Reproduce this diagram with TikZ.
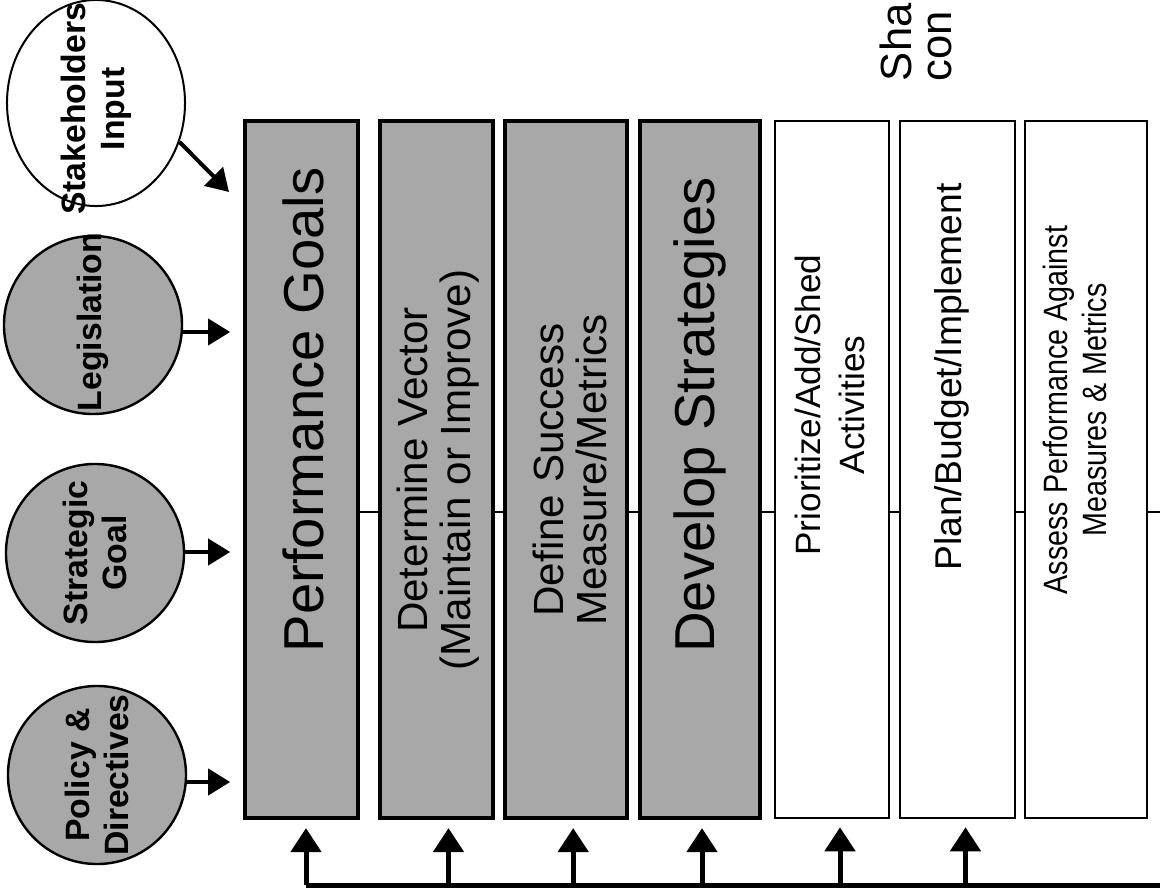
\documentclass[tikz,border=0pt]{standalone}
\usepackage{fontspec}
\setmainfont{Liberation Sans}
\newfontfamily\narrowsans[FakeStretch=0.85]{Liberation Sans}
\usetikzlibrary{shapes.geometric,arrows.meta}

\definecolor{halftone}{gray}{0.66}

\tikzset{
  shadedbox/.style={draw=black, line width=1mm, fill=halftone, minimum height=17.425cm, inner sep=0pt},
  plainbox/.style={draw=black, line width=0.6mm, fill=white, minimum height=17.425cm, inner sep=0pt},
  shadedsrc/.style={ellipse, draw=black, line width=0.6mm, fill=halftone, minimum width=4.45cm, minimum height=4.45cm, inner sep=0pt},
  plainsrc/.style={ellipse, draw=black, line width=0.5mm, fill=white, minimum width=4.45cm, minimum height=5.15cm, inner sep=0pt},
  srctext/.style={rotate=90, align=center, font=\bfseries\fontsize{24}{28}\selectfont},
  bigtext/.style={rotate=90, align=center, font=\fontsize{40}{44}\selectfont},
  midtext/.style={rotate=90, align=center, font=\fontsize{30}{31}\selectfont},
  plaintext/.style={rotate=90, align=center, font=\fontsize{25}{31}\selectfont},
  inarrow/.style={line width=1mm, -{Triangle[width=6.5mm, length=5.5mm]}},
  fbarrow/.style={line width=1.25mm, -{Triangle[width=7.5mm, length=6mm]}, shorten >=2mm},
  fbline/.style={line width=1.25mm},
  midline/.style={line width=0.3mm}
}

\begin{document}
\begin{tikzpicture}[x=0.025cm, y=-0.025cm]
  \useasboundingbox (0,0) rectangle (1160,895);

  % thin line through the steps
  \coordinate (midR) at (1160,512);
  \draw[midline] (301,512) -- (midR);

  % the seven steps
  \node[shadedbox, minimum width=2.825cm] (box1) at (301.5,469.5) {};
  \node[shadedbox, minimum width=2.825cm] (box2) at (436.5,469.5) {};
  \node[shadedbox, minimum width=3.05cm]  (box3) at (566,469.5) {};
  \node[shadedbox, minimum width=3.0cm]   (box4) at (700,469.5) {};
  \node[plainbox, minimum width=2.85cm]   (box5) at (832,469.5) {};
  \node[plainbox, minimum width=2.875cm]  (box6) at (957.5,469.5) {};
  \node[plainbox, minimum width=3.05cm]   (box7) at (1086,469.5) {};

  \node[bigtext] (t1) at (303,410) {Performance Goals};
  \node[midtext] (t2) at (438,470) {Determine Vector\\(Maintain or Improve)};
  \node[midtext] (t3) at (570,470) {Define Success\\Measure/Metrics};
  \node[bigtext] (t4) at (700,415) {Develop Strategies};
  \node[plaintext] (t5) at (830,405) {Prioritize/Add/Shed\\Activities};
  \node[plaintext, font=\fontsize{26.5}{31}\selectfont] (t6) at (952,377) {Plan/Budget/Implement};
  \node[plaintext, font=\narrowsans\fontsize{24}{28}\selectfont] (t7) at (1075,410) {Assess Performance Against\\Measures \& Metrics};

  % inputs
  \node[plainsrc]  (stake)  at (96,103) {};
  \node[srctext] (stakeT) at (96,109) {Stakeholders\\Input};
  \node[shadedsrc] (legis)  at (93,325) {};
  \node[srctext] (legisT) at (93,322) {Legislation};
  \node[shadedsrc] (strat)  at (95,553) {};
  \node[srctext] (stratT) at (95,553) {Strategic\\Goal};
  \node[shadedsrc] (policy) at (97,775) {};
  \node[srctext] (policyT) at (97,775) {Policy \&\\Directives};

  \coordinate (stakeTip) at (229,192);
  \draw[inarrow] (stake.-25) -- (stakeTip);
  \draw[inarrow] (legis.east |- 0,332) -- ([xshift=-3.2mm]box1.west |- 0,332);
  \draw[inarrow] (strat.east |- 0,552) -- ([xshift=-3.2mm]box1.west |- 0,552);
  \draw[inarrow] (policy.east |- 0,782) -- ([xshift=-3.2mm]box1.west |- 0,782);

  % feedback
  \coordinate (fbL) at (306,885);
  \coordinate (fbR) at (1160,885);
  \draw[fbline] (fbR) -- (fbL);
  \draw[fbarrow] (fbL) -- (fbL |- box1.south);
  \draw[fbarrow] ([xshift=3mm]box2.south |- fbL) -- ([xshift=3mm]box2.south);
  \draw[fbarrow] ([xshift=1.8mm]box3.south |- fbL) -- ([xshift=1.8mm]box3.south);
  \draw[fbarrow] ([xshift=0.5mm]box4.south |- fbL) -- ([xshift=0.5mm]box4.south);
  \draw[fbarrow] ([xshift=2mm]box5.south |- fbL) -- ([xshift=2mm]box5.south);
  \draw[fbarrow] ([xshift=2mm]box6.south |- fbL) -- ([xshift=2mm]box6.south);

  % cut-off note at the top
  \node[rotate=90, anchor=west, align=left, font=\fontsize{31}{29}\selectfont] (note) at (916,86) {Sha\\con};
\end{tikzpicture}
\end{document}
